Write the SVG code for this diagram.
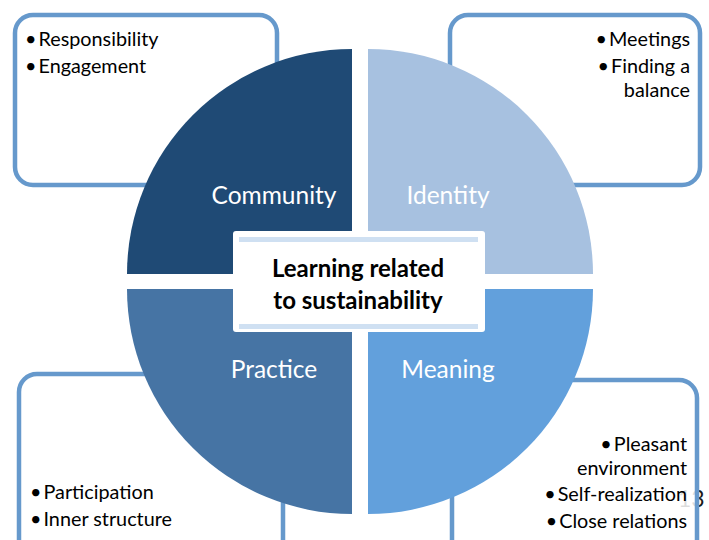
<svg xmlns="http://www.w3.org/2000/svg" width="709" height="540" viewBox="0 0 709 540">
<style>
.box{fill:#fff;stroke:#6699CC;stroke-width:4.5}
.bt{font-family:Lato,"Liberation Sans",sans-serif;font-size:19.8px;fill:#000}
.ql{font-family:Lato,"Liberation Sans",sans-serif;font-size:24.5px;fill:#fff;text-anchor:middle}
.ct{font-family:Lato,"Liberation Sans",sans-serif;font-size:24px;font-weight:bold;fill:#000;text-anchor:middle}
.end{text-anchor:end}
</style>
<rect width="709" height="540" fill="#fff"/>
<text x="678" y="507" font-family="Lato,'Liberation Sans',sans-serif" font-size="23" fill="#1a1a1a">13</text>
<g id="box-community"><rect class="box" x="15" y="15" width="262" height="170" rx="18"/>
<text class="bt" x="25" y="46"><tspan>•</tspan><tspan dx="2">Responsibility</tspan></text>
<text class="bt" x="25" y="73"><tspan>•</tspan><tspan dx="2">Engagement</tspan></text></g>
<g id="box-identity"><rect class="box" x="450" y="15" width="250" height="170" rx="18"/>
<text class="bt end" x="690" y="46"><tspan>•</tspan><tspan dx="2">Meetings</tspan></text>
<text class="bt end" x="690" y="73"><tspan>•</tspan><tspan dx="2">Finding a</tspan></text>
<text class="bt end" x="690" y="97">balance</text></g>
<g id="box-practice"><rect class="box" x="19" y="374" width="264" height="200" rx="18"/>
<text class="bt" x="30" y="499"><tspan>•</tspan><tspan dx="2">Participation</tspan></text>
<text class="bt" x="30" y="526"><tspan>•</tspan><tspan dx="2">Inner structure</tspan></text></g>
<g id="box-meaning"><rect class="box" x="452" y="380" width="245" height="200" rx="18" style="fill-opacity:0.85"/>
<text class="bt end" x="687" y="451"><tspan>•</tspan><tspan dx="2">Pleasant</tspan></text>
<text class="bt end" x="687" y="475">environment</text>
<text class="bt end" x="687" y="501"><tspan>•</tspan><tspan dx="2">Self-realization</tspan></text>
<text class="bt end" x="687" y="528"><tspan>•</tspan><tspan dx="2">Close relations</tspan></text></g>
<g id="community"><path d="M352,274 L127,274 A225,225 0 0 1 352,49 Z" fill="#1F4A75"/><text class="ql" x="274" y="204">Community</text></g>
<g id="identity"><path d="M368,274 L368,49 A225,225 0 0 1 593,274 Z" fill="#A7C1E0"/><text class="ql" x="448" y="204">Identity</text></g>
<g id="practice"><path d="M352,289 L352,514 A225,225 0 0 1 127,289 Z" fill="#4674A4"/><text class="ql" x="274" y="378">Practice</text></g>
<g id="meaning"><path d="M368,289 L593,289 A225,225 0 0 1 368,514 Z" fill="#62A0DC"/><text class="ql" x="448" y="378">Meaning</text></g>
<g id="center"><rect x="233" y="231" width="252" height="101" rx="3" fill="#fff"/>
<rect x="239" y="237" width="239" height="5" fill="#CFE0F2"/>
<rect x="239" y="324" width="239" height="5" fill="#CFE0F2"/>
<text class="ct" x="358" y="277">Learning related</text>
<text class="ct" x="358" y="309">to sustainability</text></g>
<g id="connectors"/>
</svg>
